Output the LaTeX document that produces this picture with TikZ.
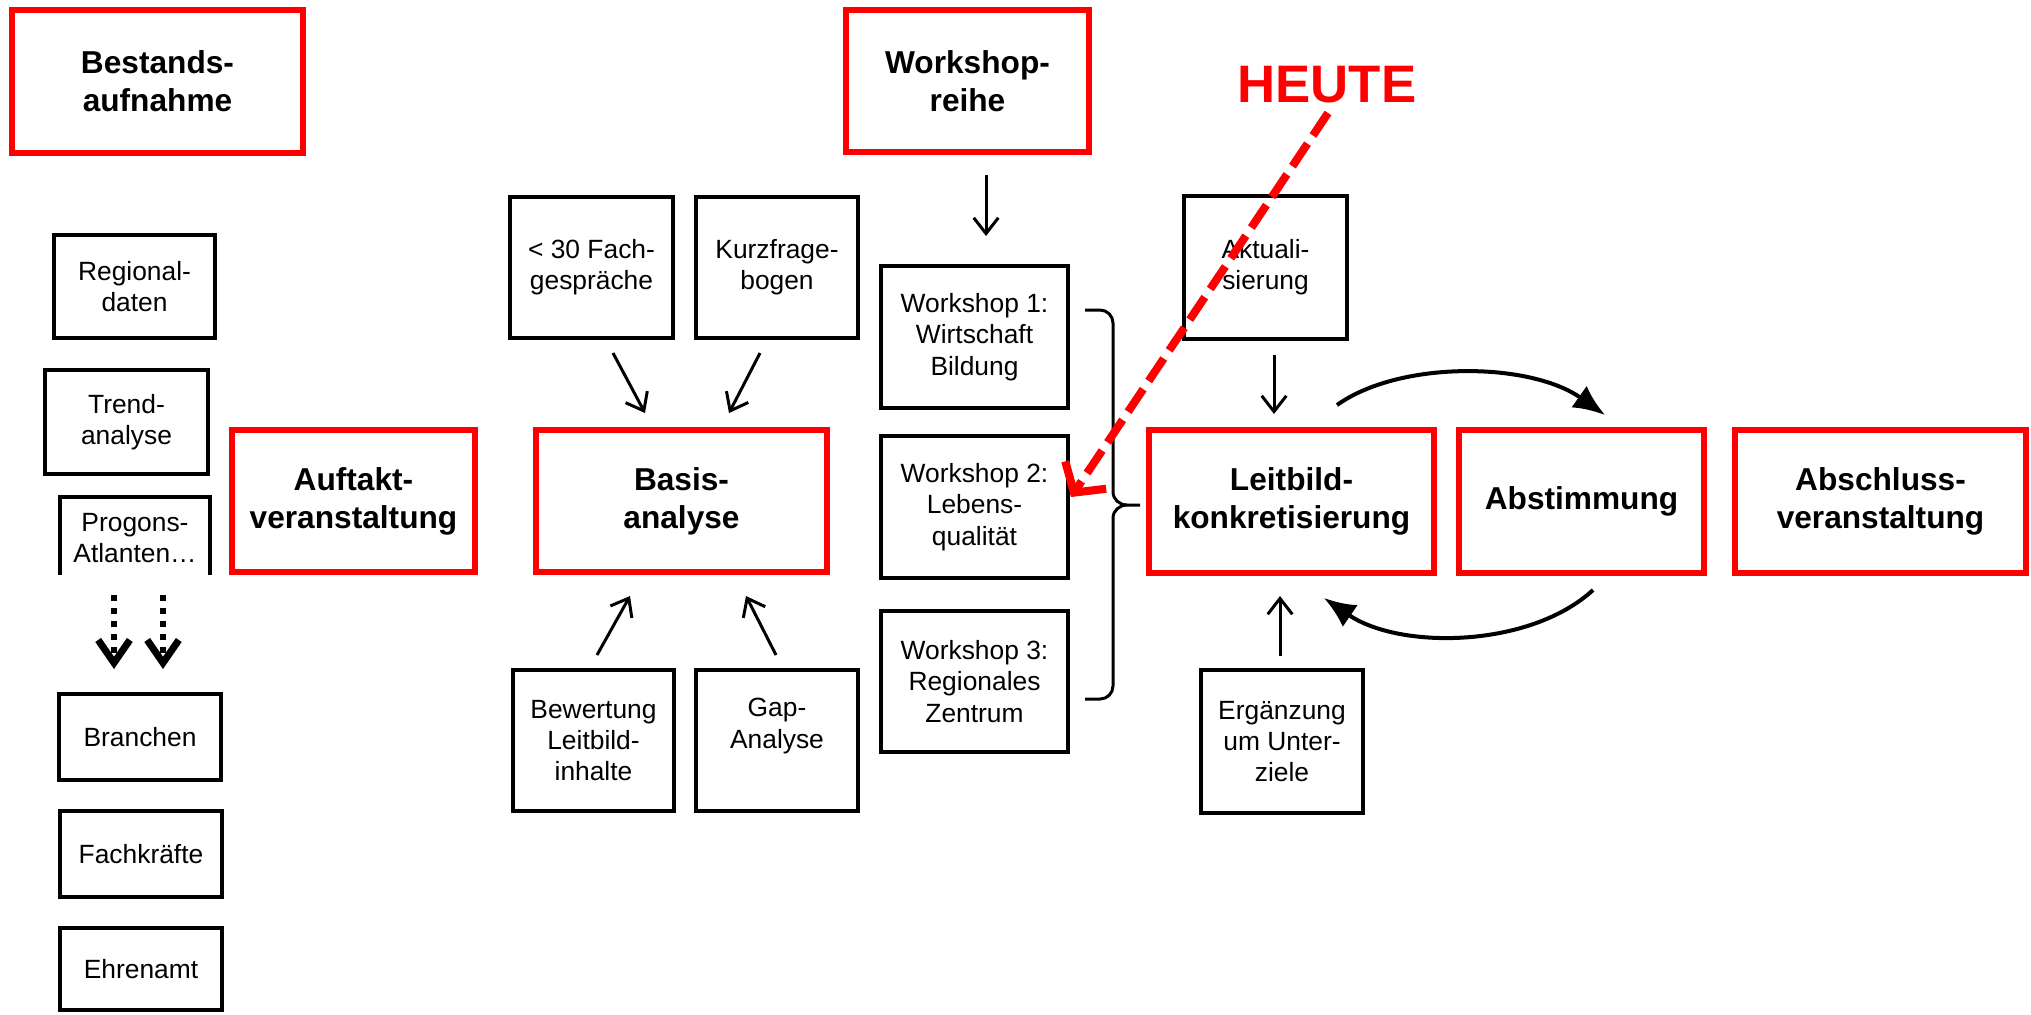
\documentclass[tikz,border=0pt]{standalone}
\usepackage{fontspec}
\setmainfont{Liberation Sans}
\usetikzlibrary{arrows.meta}
\begin{document}
\begin{tikzpicture}[x=0.01cm,y=-0.01cm,
  redbox/.style={draw=red, line width=1.7pt, inner sep=0pt, align=center,
    font=\bfseries\fontsize{9}{10.8}\selectfont},
  blkbox/.style={draw=black, line width=1.14pt, inner sep=0pt, align=center,
    font=\fontsize{7.5}{8.9}\selectfont},
  txt/.style={inner sep=0pt, align=center, font=\fontsize{7.5}{8.9}\selectfont},
  arr/.style={-{Straight Barb[length=4.5pt,width=7pt]}, line width=0.85pt},
  dotarr/.style={-{Straight Barb[length=6.5pt,width=9pt,line width=2pt]}, line width=1.7pt,
    dash pattern=on 1.7pt off 2pt},
  curv/.style={-{Latex[length=9pt,width=7.5pt]}, line width=1.14pt},
  brace/.style={line width=0.85pt},
  heutearr/.style={draw=red, line width=2.3pt, dash pattern=on 7.7pt off 2.8pt,
    -{Straight Barb[length=6pt,width=14pt]}}
]
\useasboundingbox (0,0) rectangle (2031,1014);

% red main boxes
\node[redbox, minimum width=2.91cm, minimum height=1.43cm] (best) at (157.5,81.5) {Bestands-\\aufnahme};
\node[redbox, minimum width=2.43cm, minimum height=1.42cm] (auft) at (353.5,501) {Auftakt-\\veranstaltung};
\node[redbox, minimum width=2.91cm, minimum height=1.42cm] (basis) at (681.5,501) {Basis-\\analyse};
\node[redbox, minimum width=2.43cm, minimum height=1.42cm] (wsr) at (967.5,81) {Workshop-\\reihe};
\node[redbox, minimum width=2.85cm, minimum height=1.43cm] (leit) at (1291.5,501.5) {Leitbild-\\konkretisierung};
\node[redbox, minimum width=2.45cm, minimum height=1.43cm] (abst) at (1581.5,501.5) {Abstimmung};
\node[redbox, minimum width=2.91cm, minimum height=1.43cm] (absch) at (1880.5,501.5) {Abschluss-\\veranstaltung};

% left column
\node[blkbox, minimum width=1.61cm, minimum height=1.03cm] (reg) at (134.5,286.5) {Regional-\\daten};
\node[blkbox, minimum width=1.63cm, minimum height=1.04cm] (trend) at (126.5,422) {Trend-\\analyse};
\draw[line width=1.14pt] (60,575) -- (60,497) -- (210,497) -- (210,575);
\node[txt] (prog) at (135,538) {Progons-\\Atlanten…};
\node[blkbox, minimum width=1.62cm, minimum height=0.86cm] (bran) at (140,737) {Branchen};
\node[blkbox, minimum width=1.62cm, minimum height=0.86cm] (fachk) at (141,854) {Fachkräfte};
\node[blkbox, minimum width=1.62cm, minimum height=0.82cm] (ehren) at (141,969) {Ehrenamt};

\coordinate (d1s) at (114,595); \coordinate (d1e) at (114,669);
\coordinate (d2s) at (163,595); \coordinate (d2e) at (163,669);
\draw[dotarr] (d1s) -- (d1e);
\draw[dotarr] (d2s) -- (d2e);

% Basisanalyse inputs
\node[blkbox, minimum width=1.63cm, minimum height=1.41cm] (fg) at (591.5,267.5) {< 30 Fach-\\gespräche};
\node[blkbox, minimum width=1.62cm, minimum height=1.41cm] (kurz) at (777,267.5) {Kurzfrage-\\bogen};
\node[blkbox, minimum width=1.61cm, minimum height=1.41cm] (bew) at (593.5,740.5) {Bewertung\\Leitbild-\\inhalte};
\node[blkbox, minimum width=1.62cm, minimum height=1.41cm] (gap) at (777,740.5) {};
\node[txt] (gapt) at (777,726) {Gap-\\Analyse};

\coordinate (a1s) at (613,353); \coordinate (a1e) at (645,413);
\coordinate (a2s) at (760,353); \coordinate (a2e) at (729,413);
\coordinate (a3s) at (597,655); \coordinate (a3e) at (630,596);
\coordinate (a4s) at (776,655); \coordinate (a4e) at (746,596);
\draw[arr] (a1s) -- (a1e);
\draw[arr] (a2s) -- (a2e);
\draw[arr] (a3s) -- (a3e);
\draw[arr] (a4s) -- (a4e);

% Workshops
\coordinate (w0s) at (986,175); \coordinate (w0e) at (986,236);
\draw[arr] (w0s) -- (w0e);
\node[blkbox, minimum width=1.87cm, minimum height=1.42cm] (ws1) at (974.5,337) {Workshop 1:\\Wirtschaft\\Bildung};
\node[blkbox, minimum width=1.87cm, minimum height=1.42cm] (ws2) at (974.5,507) {Workshop 2:\\Lebens-\\qualität};
\node[blkbox, minimum width=1.87cm, minimum height=1.41cm] (ws3) at (974.5,681.5) {Workshop 3:\\Regionales\\Zentrum};
\draw[brace] (1085,310) -- (1100,310) to[out=0,in=90] (1113,323) -- (1113,492)
  to[out=-90,in=180] (1127,505) -- (1140,505);
\draw[brace] (1127,505) to[out=180,in=90] (1113,518) -- (1113,686)
  to[out=-90,in=0] (1100,699) -- (1085,699);

% Leitbild inputs
\node[blkbox, minimum width=1.63cm, minimum height=1.43cm] (akt) at (1265.5,267.5) {Aktuali-\\sierung};
\node[blkbox, minimum width=1.62cm, minimum height=1.43cm] (erg) at (1282,741.5) {Ergänzung\\um Unter-\\ziele};
\coordinate (k1s) at (1274,355); \coordinate (k1e) at (1274,414);
\coordinate (k2s) at (1280,656); \coordinate (k2e) at (1280,596);
\draw[arr] (k1s) -- (k1e);
\draw[arr] (k2s) -- (k2e);

% loop arrows
\coordinate (c1s) at (1337,405); \coordinate (c1e) at (1605,415);
\coordinate (c2s) at (1593,590); \coordinate (c2e) at (1324,598);
\draw[curv] (c1s) .. controls (1400,360) and (1530,362) .. (c1e);
\draw[curv] (c2s) .. controls (1530,648) and (1400,650) .. (c2e);

% HEUTE
\node[text=red, inner sep=0pt, font=\bfseries\fontsize{15}{18}\selectfont] (heute) at (1327,85) {HEUTE};
\coordinate (hs) at (1328,113); \coordinate (ht) at (1071,497);
\draw[heutearr] (hs) -- (ht);
\end{tikzpicture}
\end{document}
